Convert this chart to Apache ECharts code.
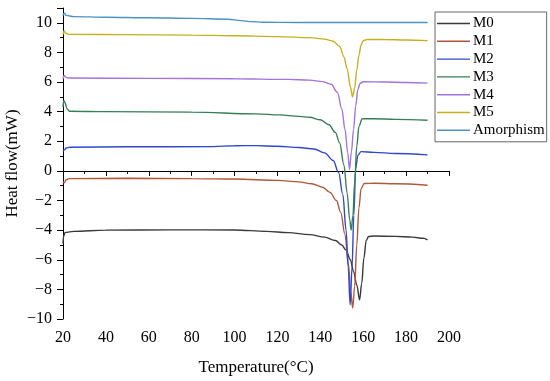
<!DOCTYPE html>
<html>
<head>
<meta charset="utf-8">
<script src="https://cdn.jsdelivr.net/npm/echarts@6/dist/echarts.min.js"></script>
<style>html,body{margin:0;padding:0;background:#fff;}#c{width:550px;height:381px;}</style>
</head>
<body>
<div id="c"></div>
<script>
var seriesNames = ['M0', 'M1', 'M2', 'M3', 'M4', 'M5', 'Amorphism'];

var m0 = [[20,-4.9],[20.3,-4.4],[21,-4.15],[25,-4.08],[40,-4.0],[70,-3.98],[100,-3.99],[115,-4.08],[125,-4.17],[135,-4.3],[142,-4.47],[147,-4.7],[150,-5.0],[152,-5.35],[154,-6.0],[155.5,-6.8],[157,-7.7],[158.3,-8.7],[159.3,-7.6],[160.3,-5.9],[161.4,-4.7],[162.5,-4.43],[165,-4.4],[175,-4.42],[183,-4.47],[188,-4.55],[190,-4.65]];
var m1 = [[20,-0.75],[20.6,-0.8],[21.5,-0.6],[23,-0.52],[50,-0.5],[80,-0.52],[100,-0.55],[120,-0.64],[130,-0.74],[136,-0.87],[141,-1.1],[144.5,-1.45],[147.5,-2.0],[149.5,-2.8],[151.5,-4.3],[153,-6.2],[154.2,-8.2],[155.1,-9.26],[156,-7.8],[157,-5],[158,-2.5],[159,-1.2],[160.5,-0.85],[165,-0.83],[175,-0.87],[190,-0.97]];
var m2 = [[20,1.35],[20.5,1.4],[21.5,1.55],[23,1.6],[50,1.63],[90,1.64],[100,1.7],[110,1.71],[120,1.66],[130,1.58],[137,1.48],[142,1.22],[146,0.7],[148.5,-0.1],[150.5,-1.6],[152,-4],[153,-6.5],[153.9,-9.04],[154.8,-6.5],[155.6,-3],[156.5,0.2],[157.5,1.05],[159,1.3],[165,1.25],[175,1.18],[190,1.08]];
var m3 = [[20,4.3],[20.4,4.75],[21,4.6],[21.8,4.2],[23,4.03],[40,4.0],[80,3.97],[110,3.85],[121,3.78],[130,3.68],[135,3.62],[140,3.45],[144,3.12],[147,2.6],[149,1.9],[151,0.4],[152.5,-1.5],[153.7,-3.3],[154.4,-4.0],[155.2,-3],[156,-0.8],[157,1.7],[158,3.0],[159.5,3.52],[165,3.52],[175,3.48],[190,3.42]];
var m4 = [[20,6.2],[20.5,6.45],[21.5,6.3],[23,6.27],[60,6.25],[100,6.22],[125,6.18],[135,6.13],[141,6.03],[145,5.85],[148,5.3],[150,4.2],[151.5,2.8],[152.8,1.2],[153.6,0.1],[154.5,1.3],[155.5,2.8],[156.5,4.4],[157.5,5.5],[158.5,5.9],[160,6.02],[170,6.0],[180,5.97],[190,5.93]];
var m5 = [[20,9.2],[20.5,9.45],[21.3,9.3],[23,9.22],[50,9.2],[80,9.17],[100,9.13],[120,9.07],[135,9.0],[142,8.9],[146,8.75],[149,8.4],[151,7.7],[152.5,6.9],[154,5.7],[155,5.0],[156,5.6],[157,6.8],[158,7.8],[159,8.5],[160,8.8],[162,8.88],[170,8.87],[180,8.84],[190,8.8]];
var amorphism = [[20,10.5],[20.6,10.65],[21.5,10.5],[25,10.42],[40,10.38],[60,10.34],[80,10.3],[97,10.24],[103,10.15],[108,10.08],[113,10.04],[130,10.02],[160,10.02],[190,10.02]];

var seriesData = [m0, m1, m2, m3, m4, m5, amorphism];
var colors = ['#3a3a3a', '#b0583a', '#2f48cc', '#357f55', '#a274dc', '#c4b11f', '#4a93c6'];

var font = 'Liberation Serif, Times New Roman, serif';
var chart = echarts.init(document.getElementById('c'), null, {renderer: 'canvas'});
var option = {
  animation: false,
  backgroundColor: '#fff',
  grid: {left: 63, right: 101, top: 8, bottom: 62, containLabel: false, outerBoundsMode: 'none'},
  legend: {
    orient: 'vertical', left: 435, top: 12,
    padding: [4, 2, 4, 2],
    borderColor: '#666', borderWidth: 1,
    icon: 'path://M0,0L33,0L33,1.4L0,1.4Z',
    itemWidth: 33, itemHeight: 14, itemGap: 2.8,
    textStyle: {fontFamily: font, fontSize: 15, color: '#000', lineHeight: 14, padding: [0, 0, 0, -2]},
    data: seriesNames
  },
  xAxis: {
    type: 'value', min: 20, max: 200, interval: 20,
    name: 'Temperature(°C)', nameLocation: 'middle', nameGap: 40, nameMoveOverlap: false,
    nameTextStyle: {fontFamily: font, fontSize: 17, color: '#000'},
    axisLine: {show: true, lineStyle: {color: '#000', width: 1}},
    axisTick: {show: true, inside: false, length: 5, lineStyle: {color: '#000', width: 1}},
    minorTick: {show: true, splitNumber: 2, length: 3, lineStyle: {color: '#000', width: 1}},
    axisLabel: {fontFamily: font, fontSize: 16, color: '#000', margin: 11},
    splitLine: {show: false},
    minorSplitLine: {show: false}
  },
  yAxis: {
    type: 'value', min: -10, max: 11, interval: 2,
    name: 'Heat flow(mW)', nameLocation: 'middle', nameGap: 42, nameMoveOverlap: false,
    nameTextStyle: {fontFamily: font, fontSize: 17, color: '#000'},
    axisLine: {show: true, lineStyle: {color: '#000', width: 1}},
    axisTick: {show: true, inside: false, length: 6, lineStyle: {color: '#000', width: 1}},
    minorTick: {show: true, splitNumber: 2, length: 3, lineStyle: {color: '#000', width: 1}},
    axisLabel: {fontFamily: font, fontSize: 16, color: '#000', margin: 11,
      formatter: function (v) { return v > 10 ? '' : String(v).replace('-', '\u2212'); }},
    splitLine: {show: false},
    minorSplitLine: {show: false}
  },
  series: seriesNames.map(function (n, i) {
    return {
      name: n, type: 'line', data: seriesData[i],
      symbol: 'none', smooth: 0.35, smoothMonotone: 'x',
      lineStyle: {color: colors[i], width: 1.4},
      itemStyle: {color: colors[i]}
    };
  })
};
chart.setOption(option);
</script>
</body>
</html>
